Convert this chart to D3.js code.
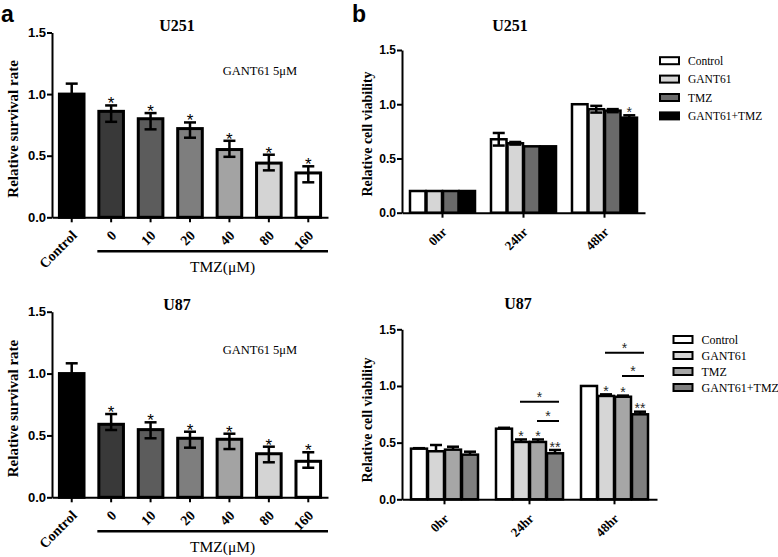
<!DOCTYPE html>
<html><head><meta charset="utf-8">
<script src="https://cdn.jsdelivr.net/npm/d3@7"></script>
<style>body{margin:0;background:#fff}</style>
</head><body><svg id="c" width="778" height="557"></svg>
<script>
// ---------- data ----------
const doseCategories = ["Control", "0", "10", "20", "40", "80", "160"];
const yTicks = [0, 0.5, 1.0, 1.5];

const u251DoseMean  = [1.00, 0.86, 0.80, 0.72, 0.55, 0.44, 0.36];
const u251DoseUpper = [1.085, 0.908, 0.846, 0.770, 0.621, 0.508, 0.414];
const u251DoseLower = [0.92, 0.775, 0.714, 0.646, 0.491, 0.381, 0.284];
const u251DoseStars = ["", "*", "*", "*", "*", "*", "*"];

const u87DoseMean  = [1.00, 0.59, 0.547, 0.477, 0.469, 0.352, 0.291];
const u87DoseUpper = [1.083, 0.673, 0.606, 0.530, 0.514, 0.409, 0.364];
const u87DoseLower = [0.92, 0.544, 0.477, 0.401, 0.390, 0.283, 0.239];
const u87DoseStars = ["", "*", "*", "*", "*", "*", "*"];

const timeGroups = ["0hr", "24hr", "48hr"];
const seriesNames = ["Control", "GANT61", "TMZ", "GANT61+TMZ"];

const u251TimeControl = [0.20, 0.677, 1.00];
const u251TimeGant    = [0.20, 0.640, 0.954];
const u251TimeTmz     = [0.20, 0.612, 0.941];
const u251TimeCombo   = [0.20, 0.612, 0.876];
const u251TimeErrControl = [0, 0.058, 0];
const u251TimeErrGant    = [0, 0.012, 0.031];
const u251TimeErrTmz     = [0, 0, 0.014];
const u251TimeErrCombo   = [0, 0, 0.022];
const u251TimeStarsCombo = ["", "", "*"];

const u87TimeControl = [0.447, 0.623, 1.00];
const u87TimeGant    = [0.424, 0.506, 0.912];
const u87TimeTmz     = [0.438, 0.506, 0.905];
const u87TimeCombo   = [0.394, 0.406, 0.750];
const u87TimeErrControl = [0.004, 0.008, 0];
const u87TimeErrGant    = [0.055, 0.022, 0.014];
const u87TimeErrTmz     = [0.026, 0.022, 0.010];
const u87TimeErrCombo   = [0.026, 0.029, 0.023];
const u87TimeStarsGant  = ["", "*", "*"];
const u87TimeStarsTmz   = ["", "*", "*"];
const u87TimeStarsCombo = ["", "**", "**"];
// significance brackets: group, from-series, to-series, level (data units)
const u87Brackets = [
  ["24hr", "GANT61", "GANT61+TMZ", 0.861],
  ["24hr", "TMZ", "GANT61+TMZ", 0.691],
  ["48hr", "GANT61", "GANT61+TMZ", 1.294],
  ["48hr", "TMZ", "GANT61+TMZ", 1.088]
];

// ---------- style ----------
const serif = "'Liberation Serif','Times New Roman',serif";
const sans = "'Liberation Sans',Arial,sans-serif";
const doseFills = ["#000000", "#393939", "#5c5c5c", "#7e7e7e", "#a3a3a3", "#d4d4d4", "#ffffff"];
const u251TimeFills = ["#ffffff", "#d6d6d6", "#6a6a6a", "#000000"];
const u87TimeFills = ["#ffffff", "#d6d6d6", "#a6a6a6", "#7f7f7f"];

const svg = d3.select("#c");

function styleAxis(sel, fontSize) {
  sel.selectAll("path.domain").attr("stroke", "#000").attr("stroke-width", 2);
  sel.selectAll(".tick line").attr("stroke", "#000").attr("stroke-width", 2);
  sel.selectAll(".tick text").attr("font-family", sans).attr("font-weight", "bold")
     .attr("font-size", fontSize).attr("fill", "#000");
}

function dosePanel(o) {
  const g = svg.append("g");
  const x = d3.scaleBand().domain(doseCategories).range([52, 328]).paddingInner(0.3).paddingOuter(0.15);
  const y = d3.scaleLinear().domain([0, 1.5]).range([o.yBot, o.yTop]);
  const bw = x.bandwidth();
  const rows = doseCategories.map((c, i) => ({c, m: o.mean[i], lo: o.lower[i], hi: o.upper[i], s: o.stars[i], f: doseFills[i]}));

  g.selectAll("rect.bar").data(rows).join("rect")
    .attr("x", d => x(d.c) + 1.5).attr("width", bw - 3)
    .attr("y", d => y(d.m)).attr("height", d => o.yBot - y(d.m))
    .attr("fill", d => d.f).attr("stroke", "#000").attr("stroke-width", 3);

  const eb = g.selectAll("g.err").data(rows).join("g").attr("stroke", "#000").attr("stroke-width", 2.5);
  eb.append("line").attr("x1", d => x(d.c) + bw / 2).attr("x2", d => x(d.c) + bw / 2)
    .attr("y1", d => y(d.lo)).attr("y2", d => y(d.hi));
  eb.append("line").attr("x1", d => x(d.c) + bw / 2 - 6).attr("x2", d => x(d.c) + bw / 2 + 6)
    .attr("y1", d => y(d.hi)).attr("y2", d => y(d.hi));
  eb.append("line").attr("x1", d => x(d.c) + bw / 2 - 6).attr("x2", d => x(d.c) + bw / 2 + 6)
    .attr("y1", d => y(d.lo)).attr("y2", d => y(d.lo));

  g.selectAll("text.star").data(rows).join("text")
    .attr("x", d => x(d.c) + bw / 2).attr("y", d => y(d.hi) + 4)
    .attr("text-anchor", "middle").attr("font-family", sans).attr("font-size", 17)
    .attr("fill", "#000").text(d => d.s);

  const ya = g.append("g").attr("transform", "translate(52,0)")
    .call(d3.axisLeft(y).tickValues(yTicks).tickFormat(d3.format(".1f")).tickSize(5).tickSizeOuter(0).tickPadding(1));
  styleAxis(ya, 13);

  const xa = g.append("g").attr("transform", `translate(0,${o.yBot})`)
    .call(d3.axisBottom(x).tickSize(5).tickSizeOuter(0));
  styleAxis(xa, 14);
  xa.selectAll(".tick text").attr("font-family", serif).attr("x", 0).attr("y", 0).attr("dy", 0)
    .attr("text-anchor", "end").attr("transform", "translate(6,19) rotate(-45)");

  // TMZ bracket
  const lx0 = x("0"), lx1 = x.range()[1];
  g.append("line").attr("x1", lx0).attr("x2", lx1).attr("y1", o.yBot + 34).attr("y2", o.yBot + 34)
    .attr("stroke", "#000").attr("stroke-width", 2.5);
  g.append("text").attr("x", (lx0 + lx1) / 2 + 10).attr("y", o.yBot + 55)
    .attr("text-anchor", "middle").attr("font-family", serif).attr("font-size", 15.5).text("TMZ(μM)");

  g.append("text").attr("x", 177).attr("y", o.yTop - 2).attr("text-anchor", "middle")
    .attr("font-family", serif).attr("font-weight", "bold").attr("font-size", 16).text(o.title);
  g.append("text").attr("x", 260).attr("y", o.yTop + 42.5).attr("text-anchor", "middle")
    .attr("font-family", serif).attr("font-size", 12.5).text("GANT61 5μM");
  g.append("text").attr("transform", `translate(18,${(o.yTop + o.yBot) / 2 + 4}) rotate(-90)`)
    .attr("text-anchor", "middle").attr("font-family", serif).attr("font-weight", "bold")
    .attr("font-size", 15).text("Relative survival rate");
}

function timePanel(o) {
  const g = svg.append("g");
  const x0 = d3.scaleBand().domain(timeGroups).range([402, o.xEnd]).paddingInner(o.pad).paddingOuter(o.pad / 2);
  const x1 = d3.scaleBand().domain(seriesNames).range([0, x0.bandwidth()]);
  const y = d3.scaleLinear().domain([0, 1.5]).range([o.yBot, o.yTop]);
  const bw = x1.bandwidth();
  const rows = [];
  timeGroups.forEach((tg, gi) => seriesNames.forEach((s, si) => {
    rows.push({tg, s, m: o.values[si][gi], e: o.errs[si][gi], star: o.stars[si][gi], f: o.fills[si]});
  }));
  const cx = d => x0(d.tg) + x1(d.s) + bw / 2;

  g.selectAll("rect.bar").data(rows).join("rect")
    .attr("x", d => x0(d.tg) + x1(d.s) + 0.5).attr("width", bw - 1)
    .attr("y", d => y(d.m)).attr("height", d => o.yBot - y(d.m))
    .attr("fill", d => d.f).attr("stroke", "#000").attr("stroke-width", 2.5);

  const er = rows.filter(d => d.e > 0);
  const eb = g.selectAll("g.err").data(er).join("g").attr("stroke", "#000").attr("stroke-width", 2.5);
  eb.append("line").attr("x1", cx).attr("x2", cx)
    .attr("y1", d => y(o.upperOnly ? d.m : d.m - d.e)).attr("y2", d => y(d.m + d.e));
  eb.append("line").attr("x1", d => cx(d) - 6).attr("x2", d => cx(d) + 6)
    .attr("y1", d => y(d.m + d.e)).attr("y2", d => y(d.m + d.e));
  if (!o.upperOnly) {
    eb.append("line").attr("x1", d => cx(d) - 6).attr("x2", d => cx(d) + 6)
      .attr("y1", d => y(d.m - d.e)).attr("y2", d => y(d.m - d.e));
  }

  g.selectAll("text.star").data(rows.filter(d => d.star)).join("text")
    .attr("x", cx).attr("y", d => y(d.m + d.e) + 1.5)
    .attr("text-anchor", "middle").attr("font-family", sans).attr("font-size", 14)
    .attr("fill", "#2a2a2a").text(d => d.star);

  (o.brackets || []).forEach(([tg, a, b, lv]) => {
    const xa = x0(tg) + x1(a) + bw / 2 - 1, xb = x0(tg) + x1(b) + bw / 2 + 4;
    g.append("line").attr("x1", xa).attr("x2", xb).attr("y1", y(lv)).attr("y2", y(lv))
      .attr("stroke", "#000").attr("stroke-width", 2);
    g.append("text").attr("x", (xa + xb) / 2).attr("y", y(lv) + 0.5).attr("text-anchor", "middle")
      .attr("font-family", sans).attr("font-size", 14).attr("fill", "#2a2a2a").text("*");
  });

  const ya = g.append("g").attr("transform", "translate(402,0)")
    .call(d3.axisLeft(y).tickValues(yTicks).tickFormat(d3.format(".1f")).tickSize(5).tickSizeOuter(0).tickPadding(1));
  styleAxis(ya, 12);
  const xa = g.append("g").attr("transform", `translate(0,${o.yBot})`)
    .call(d3.axisBottom(x0).tickSize(5).tickSizeOuter(0));
  styleAxis(xa, 13);
  xa.selectAll(".tick text").attr("font-family", serif).attr("x", 0).attr("y", 0).attr("dy", 0)
    .attr("text-anchor", "end").attr("transform", "translate(5,20) rotate(-45)");

  // legend
  const lg = g.append("g");
  seriesNames.forEach((s, i) => {
    const ry = o.legY + i * o.legStep;
    lg.append("rect").attr("x", o.legX).attr("y", ry - 3.5).attr("width", 19).attr("height", 7)
      .attr("fill", o.fills[i]).attr("stroke", "#000").attr("stroke-width", 2);
    lg.append("text").attr("x", o.legX + 28).attr("y", ry).attr("dy", "0.35em")
      .attr("font-family", serif).attr("font-size", o.legFont).text(s);
  });

  g.append("text").attr("x", o.titleX).attr("y", o.titleY).attr("text-anchor", "middle")
    .attr("font-family", serif).attr("font-weight", "bold").attr("font-size", 16).text(o.title);
  g.append("text").attr("transform", `translate(372,${o.labelY}) rotate(-90)`)
    .attr("text-anchor", "middle").attr("font-family", serif).attr("font-weight", "bold")
    .attr("font-size", 14).text("Relative cell viability");
}

dosePanel({title: "U251", yTop: 32.5, yBot: 217.3, mean: u251DoseMean, upper: u251DoseUpper, lower: u251DoseLower, stars: u251DoseStars});
dosePanel({title: "U87", yTop: 311.7, yBot: 497.3, mean: u87DoseMean, upper: u87DoseUpper, lower: u87DoseLower, stars: u87DoseStars});

timePanel({title: "U251", titleX: 510, titleY: 31, labelY: 134, yTop: 50, yBot: 212.7, xEnd: 645, pad: 0.185,
  values: [u251TimeControl, u251TimeGant, u251TimeTmz, u251TimeCombo],
  errs: [u251TimeErrControl, u251TimeErrGant, u251TimeErrTmz, u251TimeErrCombo],
  stars: [["", "", ""], ["", "", ""], ["", "", ""], u251TimeStarsCombo],
  fills: u251TimeFills, upperOnly: false, legX: 660, legY: 60.7, legStep: 18.4, legFont: 11.5});

timePanel({title: "U87", titleX: 518, titleY: 308.6, labelY: 420, yTop: 329.3, yBot: 499.3, xEnd: 657, pad: 0.2,
  values: [u87TimeControl, u87TimeGant, u87TimeTmz, u87TimeCombo],
  errs: [u87TimeErrControl, u87TimeErrGant, u87TimeErrTmz, u87TimeErrCombo],
  stars: [["", "", ""], u87TimeStarsGant, u87TimeStarsTmz, u87TimeStarsCombo],
  fills: u87TimeFills, upperOnly: true, brackets: u87Brackets, legX: 673.5, legY: 339.5, legStep: 16, legFont: 12});

svg.append("text").attr("x", 1).attr("y", 22).attr("font-family", sans).attr("font-weight", "bold")
  .attr("font-size", 23).text("a");
svg.append("text").attr("x", 352).attr("y", 22).attr("font-family", sans).attr("font-weight", "bold")
  .attr("font-size", 23).text("b");
</script></body></html>
